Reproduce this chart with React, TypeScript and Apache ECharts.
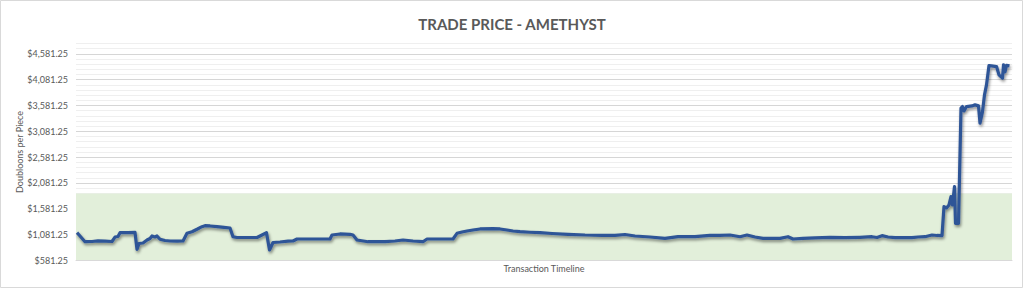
import React, { useEffect, useRef } from "react";
import * as echarts from "echarts";

const TITLE = "TRADE PRICE - AMETHYST";
const Y_NAME = "Doubloons per Piece";
const X_NAME = "Transaction Timeline";

const Y_MIN = 581.25;
const Y_MAX = 4781.25;
const Y_LABEL_MAX = 4581.25;
const MAJOR_STEP = 500;
const MINOR_STEP = 100;
const BAND_TOP = 1875;
const TX_MAX = 1872;

const transactions = [
  2, 8, 18, 32, 44, 58, 72, 78, 84, 88, 104, 118, 122, 126, 134, 142, 148, 152, 158, 162,
  168, 178, 188, 202, 214, 222, 232, 242, 252, 258, 268, 282, 296, 308, 314, 322, 338, 362, 372, 381,
  387, 394, 408, 424, 434, 442, 468, 508, 512, 528, 548, 554, 562, 584, 618, 638, 654, 674, 694, 702,
  728, 754, 762, 772, 782, 794, 808, 834, 848, 862, 874, 888, 908, 928, 952, 984, 1018, 1052, 1078, 1098,
  1118, 1148, 1178, 1204, 1238, 1268, 1288, 1308, 1328, 1342, 1358, 1374, 1408, 1424, 1434, 1454, 1478, 1508, 1538, 1568,
  1592, 1602, 1612, 1624, 1638, 1658, 1672, 1684, 1698, 1712, 1722, 1732, 1736, 1741, 1746, 1750, 1753, 1757, 1759, 1765,
  1770, 1773, 1776, 1781, 1792, 1798, 1805, 1808, 1813, 1817, 1821, 1826, 1831, 1841, 1846, 1853, 1855, 1858, 1861, 1867,
];

const prices = [
  1118, 1054, 943, 947, 961, 953, 947, 1034, 1044, 1118, 1118, 1122, 796, 909, 918, 976, 1005, 1054, 1034, 1054,
  990, 967, 957, 953, 957, 1106, 1137, 1184, 1234, 1253, 1248, 1234, 1222, 1209, 1040, 1025, 1025, 1025, 1073, 1118,
  783, 928, 938, 953, 957, 996, 996, 996, 1073, 1093, 1087, 1073, 976, 943, 943, 957, 976, 957, 943, 996,
  996, 996, 1106, 1131, 1151, 1170, 1190, 1195, 1190, 1170, 1151, 1137, 1126, 1118, 1102, 1087, 1073, 1067, 1067, 1083,
  1054, 1034, 1009, 1040, 1040, 1067, 1067, 1073, 1040, 1073, 1034, 1009, 1009, 1040, 996, 1009, 1019, 1029, 1021, 1029,
  1040, 1025, 1060, 1034, 1021, 1025, 1021, 1034, 1040, 1073, 1064, 1060, 1622, 1597, 1655, 1816, 1655, 2009, 1300, 1300,
  3529, 3560, 3476, 3560, 3573, 3593, 3573, 3238, 3463, 3786, 3980, 4354, 4348, 4335, 4174, 4110, 4368, 4232, 4358, 4348,
];

const LABEL_FONT = "Lato";
const TEXT_COLOR = "#595959";
const MAJOR_GRID = "#D6D6D6";
const MINOR_GRID = "#EFEFEF";

function formatPrice(v: number): string {
  const k = (v - Y_MIN) / MAJOR_STEP;
  if (Math.abs(k - Math.round(k)) > 1e-6 || v > Y_LABEL_MAX + 1e-6) return "";
  return (
    "$" +
    v.toLocaleString("en-US", { minimumFractionDigits: 2, maximumFractionDigits: 2 })
  );
}

export default function App() {
  const ref = useRef<HTMLDivElement>(null);

  useEffect(() => {
    if (!ref.current) return;
    const chart = echarts.init(ref.current, undefined, { renderer: "svg" });
    const perMajor = MAJOR_STEP / MINOR_STEP;
    const gridColors = [MAJOR_GRID];
    for (let i = 1; i < perMajor; i++) gridColors.push(MINOR_GRID);

    chart.setOption({
      animation: false,
      backgroundColor: "#FFFFFF",
      title: {
        text: TITLE,
        left: "center",
        top: 11,
        textStyle: {
          fontFamily: LABEL_FONT,
          fontWeight: "bold",
          fontSize: 15,
          color: TEXT_COLOR,
        },
      },
      graphic: [
        {
          type: "rect",
          shape: { x: 0.5, y: 0.5, width: 1022, height: 287 },
          style: { fill: "none", stroke: "#D9D9D9", lineWidth: 1 },
          silent: true,
          z: 100,
        },
      ],
      grid: { left: 76, right: 12, top: 43.5, bottom: 27.6 },
      xAxis: {
        type: "value",
        min: 0,
        max: TX_MAX,
        name: X_NAME,
        nameLocation: "middle",
        nameGap: 4,
        nameMoveOverlap: false,
        nameTextStyle: { fontFamily: LABEL_FONT, fontSize: 9, color: TEXT_COLOR, verticalAlign: "top" },
        axisLine: { show: true, lineStyle: { color: "#D9D9D9", width: 1 } },
        axisTick: { show: false },
        axisLabel: { show: false },
        splitLine: { show: false },
        z: 10,
      },
      yAxis: {
        type: "value",
        min: Y_MIN,
        max: Y_MAX,
        interval: MINOR_STEP,
        name: Y_NAME,
        nameLocation: "middle",
        nameGap: 52,
        nameMoveOverlap: false,
        nameTextStyle: { fontFamily: LABEL_FONT, fontSize: 9, color: TEXT_COLOR },
        axisLine: { show: false },
        axisTick: { show: false },
        axisLabel: {
          formatter: formatPrice,
          fontFamily: LABEL_FONT,
          fontSize: 9,
          color: TEXT_COLOR,
          margin: 8,
        },
        splitLine: { show: true, lineStyle: { color: gridColors, width: 1 } },
      },
      series: [
        {
          type: "line",
          data: transactions.map((t, i) => [t, prices[i]]),
          showSymbol: false,
          symbol: "none",
          lineStyle: {
            color: "#2F5597",
            width: 3.2,
            join: "round",
            shadowColor: "rgba(0,0,0,0.45)",
            shadowBlur: 3,
            shadowOffsetX: 1,
            shadowOffsetY: 2,
          },
          markArea: {
            silent: true,
            itemStyle: { color: "#E2EFDA" },
            data: [[{ yAxis: Y_MIN }, { yAxis: BAND_TOP }]],
          },
        },
      ],
    });
    return () => chart.dispose();
  }, []);

  return (
    <div
      ref={ref}
      style={{ position: "fixed", left: 0, top: 0, width: 1024, height: 288 }}
    />
  );
}
